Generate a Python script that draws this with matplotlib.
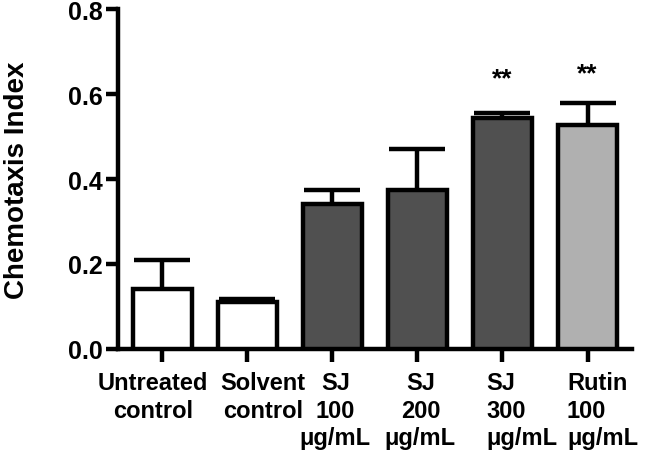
import matplotlib
matplotlib.use("Agg")
import matplotlib.pyplot as plt
import numpy as np

categories = ["Untreated\ncontrol", "Solvent\ncontrol", "SJ\n100\n\u03bcg/mL",
              "SJ\n200\n\u03bcg/mL", "SJ\n300\n\u03bcg/mL", "Rutin\n100\n\u03bcg/mL"]
means = [0.141, 0.110, 0.341, 0.374, 0.543, 0.527]
errors = [0.068, 0.007, 0.033, 0.096, 0.012, 0.051]
colors = ["#ffffff", "#ffffff", "#505050", "#505050", "#505050", "#b0b0b0"]
signif = ["", "", "", "", "**", "**"]
signif_y = [0, 0, 0, 0, 0.638, 0.648]
yticks = [0.0, 0.2, 0.4, 0.6, 0.8]

plt.rcParams['font.family'] = ['Liberation Sans', 'DejaVu Sans']
plt.rcParams['font.weight'] = 'bold'

fig = plt.figure(figsize=(6.46, 4.56), dpi=100)
ax = fig.add_axes([0.1827, 0.2325, 0.7953, 0.7455])

x = np.arange(len(categories))
lw = 3.2
ax.bar(x, means, width=0.69, color=colors, edgecolor="black", linewidth=lw, zorder=3)
eb = ax.errorbar(x, means, yerr=[np.zeros(len(means)), errors], fmt="none",
                 ecolor="black", elinewidth=lw, capsize=20, capthick=lw, zorder=2)
caplines = eb.lines[1]
if len(caplines) == 2:
    caplines[0].set_visible(False)

for xi, s, sy in zip(x, signif, signif_y):
    if s:
        ax.text(xi, sy, s, ha="center", va="center", fontsize=19, fontweight="bold")

ax.set_xlim(-0.52, 5.52)
ax.set_ylim(0, 0.8)
ax.set_yticks(yticks)
ax.set_yticklabels([f"{t:.1f}" for t in yticks], fontsize=18, fontweight="bold")
ax.set_xticks(x)
ax.set_xticklabels([""] * len(x))

offsets_px = [-9, 16, 3, 3, 19, 15]
aligns = ["center", "center", "center", "center", "left", "left"]
for xi, lab, off, al in zip(x, categories, offsets_px, aligns):
    ax.annotate(lab, xy=(xi, 0), xycoords=("data", "axes fraction"),
                xytext=(off / 1.389, -16), textcoords="offset points",
                ha="center", va="top", multialignment=al,
                fontsize=17, fontweight="bold", linespacing=1.25, annotation_clip=False)

ax.set_ylabel("Chemotaxis Index", fontsize=20, fontweight="bold", labelpad=27)

for sp in ["top", "right"]:
    ax.spines[sp].set_visible(False)
for sp in ["left", "bottom"]:
    ax.spines[sp].set_linewidth(lw)
ax.tick_params(axis="both", width=lw, length=9, direction="out")
ax.tick_params(axis="y", pad=2)

fig.savefig("out.png", dpi=100)
